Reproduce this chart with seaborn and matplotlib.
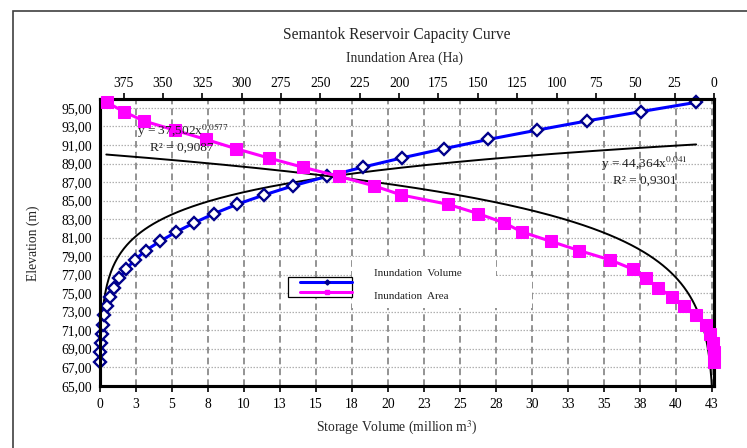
import numpy as np
import pandas as pd
import matplotlib
matplotlib.use("Agg")
import matplotlib.pyplot as plt
import seaborn as sns
from matplotlib.ticker import FuncFormatter, MultipleLocator
from matplotlib.patches import Rectangle, Polygon
from matplotlib.lines import Line2D

# ---------------------------------------------------------------------
# data
# ---------------------------------------------------------------------
elevation = [67.6, 68.6, 69.6, 70.6, 71.6, 72.6, 73.6, 74.6, 75.6, 76.6,
             77.6, 78.6, 79.6, 80.6, 81.6, 82.6, 83.6, 84.6, 85.6, 86.6,
             87.6, 88.6, 89.6, 90.6, 91.6, 92.6, 93.6, 94.6, 95.6]
volume_mcm = [0.00, 0.01, 0.05, 0.12, 0.19, 0.28, 0.46, 0.69, 0.97, 1.34,
              1.81, 2.43, 3.17, 4.17, 5.28, 6.55, 7.94, 9.53, 11.39, 13.43,
              15.74, 18.24, 20.95, 23.89, 26.97, 30.33, 33.82, 37.55, 41.37]
area_ha = [0.0, 0.0, 0.8, 2.4, 5.1, 11.5, 18.9, 26.9, 35.5, 43.1,
           51.7, 66.2, 85.7, 103.8, 121.8, 133.5, 150.0, 169.1, 198.6, 216.2,
           237.9, 261.2, 282.9, 303.6, 322.7, 342.5, 362.2, 374.9, 385.5]

# power trendlines from the chart (x in m3 / m2)
vol_fit = (44.364, 0.041, "0,9301")
area_fit = (37.502, 0.0577, "0,9087")

sns.set_theme(style="white")
plt.rcParams["font.family"] = ["Liberation Serif", "DejaVu Serif"]
plt.rcParams["mathtext.fontset"] = "stix"

W, H = 747, 448
fig = plt.figure(figsize=(W / 100, H / 100), dpi=100)
L, R, T, B = 100, 714, 98.7, 385.7
ax = fig.add_axes([L / W, 1 - B / H, (R - L) / W, (B - T) / H])

def px(x, y):
    return (x / W, 1 - y / H)

df = pd.DataFrame({"elev": elevation, "vol": volume_mcm, "area": area_ha})

# grid
ax.set_xlim(0, 42.64)
ax.set_ylim(65, 96)
ax.xaxis.set_major_locator(MultipleLocator(2.5))
ax.set_yticks(np.arange(65, 96, 2))
ax.xaxis.set_major_formatter(FuncFormatter(lambda v, p: f"{int(v + 0.5)}"))
ax.yaxis.set_major_formatter(FuncFormatter(lambda v, p: f"{v:.2f}".replace(".", ",")))
ax.grid(False)
for yv in np.arange(67, 96, 2):
    ax.axhline(yv, color="#b0b0b0", lw=0.9, ls=(0, (1.2, 1.2)), zorder=0)
for xv in np.arange(2.5, 42.6, 2.5):
    ax.axvline(xv, color="#808080", lw=1.2, ls=(0, (4, 2.5)), zorder=0)

# trendline: volume
vv = np.linspace(0.005, 41.4, 600)
ax.plot(vv, vol_fit[0] * (vv * 1e6) ** vol_fit[1], color="black", lw=1.4, zorder=2)

sns.lineplot(data=df, x="vol", y="elev", sort=False, estimator=None, ax=ax,
             color="#0000ff", lw=2.2, marker="D", markersize=6.2,
             markerfacecolor="white", markeredgecolor="#00008b",
             markeredgewidth=1.7, zorder=3, clip_on=False)

# top axis: inundation area, reversed
ax2 = ax.twiny()
ax2.set_xlim(390, 0)
ax2.xaxis.set_major_locator(MultipleLocator(25))
ax2.set_ylim(65, 96)
aa = np.linspace(386, 1.0, 600)
ax2.plot(aa, area_fit[0] * (aa * 1e4) ** area_fit[1], color="black", lw=1.4, zorder=2)
sns.lineplot(data=df, x="area", y="elev", sort=False, estimator=None, ax=ax2,
             color="#ff00ff", lw=2.2, marker="s", markersize=8.5,
             markerfacecolor="#ff00ff", markeredgecolor="#ff00ff",
             zorder=3, clip_on=False)

for a in (ax, ax2):
    a.set_xlabel("")
    a.set_ylabel("")
    for s in a.spines.values():
        s.set_color("black")
        s.set_linewidth(2.2)
    a.tick_params(colors="black", labelsize=9.8, length=4, width=1.2, direction="out")
ax.tick_params(axis="x", pad=5)
ax2.tick_params(axis="x", pad=2)
ax2.tick_params(axis="y", left=False, right=False, labelleft=False, labelright=False)
ax.tick_params(axis="y", pad=2)

# equation labels
fig.text(*px(137, 131), "y = 37,502x$^{0{,}0577}$", fontsize=9.6, color="#222222", va="center")
fig.text(*px(150, 148), "R² = 0,9087", fontsize=9.6, color="#222222", va="center")
fig.text(*px(601, 164), "y = 44,364x$^{0{,}041}$", fontsize=9.6, color="#222222", va="center")
fig.text(*px(613, 181), "R² = 0,9301", fontsize=9.6, color="#222222", va="center")

# legend, drawn like the Excel export
white = Polygon([px(352, 257), px(496, 257), px(496, 276), px(532, 276),
                 px(532, 308), px(352, 308)], closed=True,
                transform=fig.transFigure, facecolor="white", edgecolor="none", zorder=5)
fig.add_artist(white)
box = Rectangle(px(288.3, 297.3), (351.7 - 288.3) / W, (297.3 - 276.7) / H,
                transform=fig.transFigure, facecolor="white", edgecolor="black",
                lw=0.9, zorder=5)
fig.add_artist(box)
for yy, col, mk, mec in [(281.7, "#0000ff", "D", "#00008b"), (291.7, "#ff00ff", "s", "#ff00ff")]:
    x0, y0 = px(300, yy)
    x1, _ = px(352, yy)
    fig.add_artist(Line2D([x0, x1], [y0, y0], transform=fig.transFigure,
                          color=col, lw=2.2, zorder=6))
    xm, _ = px(326.7, yy)
    fig.add_artist(Line2D([xm], [y0], transform=fig.transFigure, marker=mk,
                          markersize=2.6, color=mec, lw=0, zorder=7))
fig.text(*px(374, 273.5), "Inundation  Volume", fontsize=8, color="#222222", va="center", zorder=8)
fig.text(*px(374, 296.5), "Inundation  Area", fontsize=8, color="#222222", va="center", zorder=8)

# titles
fig.text(*px(397, 35), "Semantok Reservoir Capacity Curve", fontsize=11.2,
         ha="center", va="center")
fig.text(*px(405, 58), "Inundation Area (Ha)", fontsize=9.8, ha="center", va="center")
fig.text(*px(397, 428), "Storage Volume (million m$^3$)", fontsize=9.8,
         ha="center", va="center")
fig.text(*px(33, 243), "Elevation (m)", fontsize=9.8, rotation=90,
         ha="center", va="center")

# outer chart border (only left and top edges are inside the picture)
fig.add_artist(Rectangle(px(13, 600), 1000 / W, 589 / H, transform=fig.transFigure,
                         facecolor="none", edgecolor="#404040", lw=1.2, zorder=10))

fig.savefig("out.png", dpi=100)
